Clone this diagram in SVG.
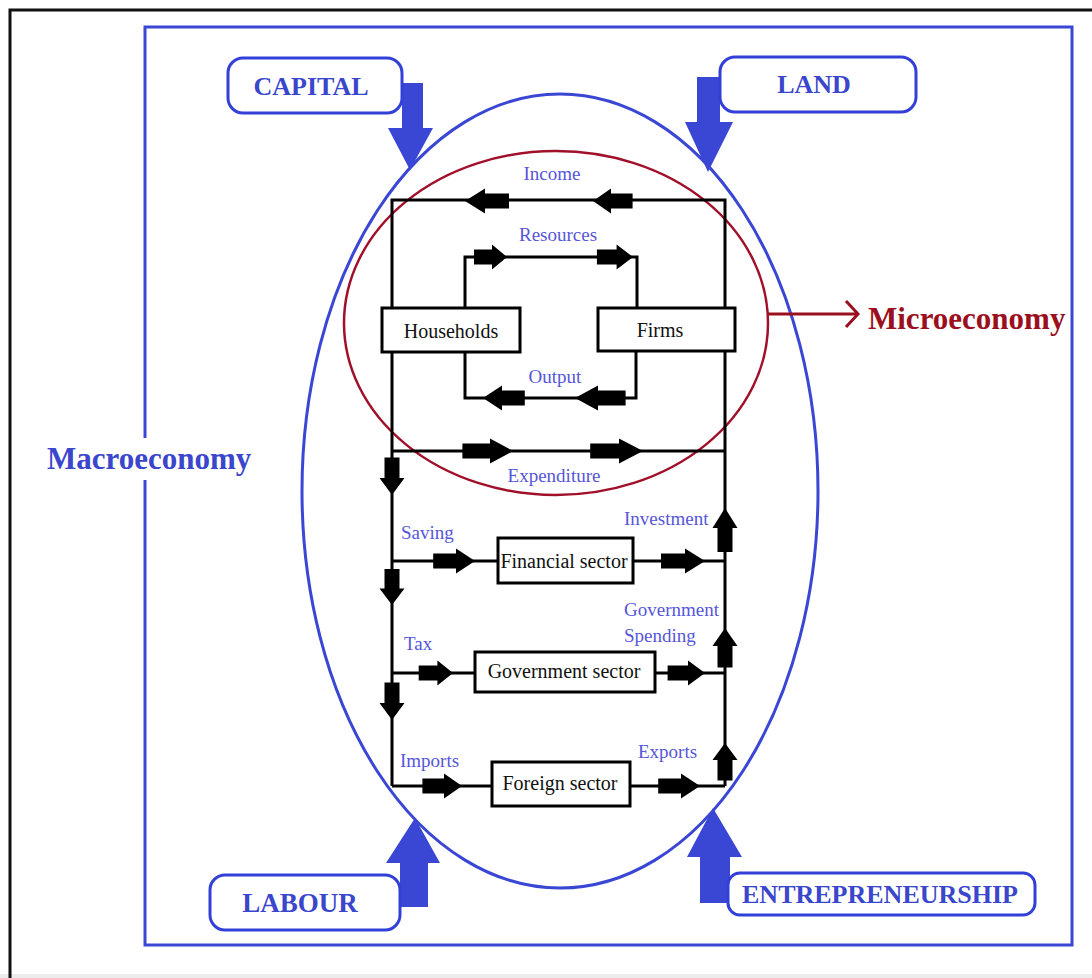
<svg xmlns="http://www.w3.org/2000/svg" xmlns:xlink="http://www.w3.org/1999/xlink" width="1092" height="978" viewBox="0 0 1092 978">
  <style>
    .frame { fill: none; stroke: #111; stroke-width: 3; }
    .macro { fill: none; stroke: #3a46d4; stroke-width: 3; }
    .micro { fill: none; stroke: #a0102a; stroke-width: 2.5; }
    .wire { fill: none; stroke: #000; stroke-width: 3; }
    .box { fill: #fff; stroke: #000; stroke-width: 3; }
    .factor { fill: #fff; stroke: #3340d8; stroke-width: 3; }
    .bigarrow { fill: #3a46d4; }
    .flow { fill: #000; }
    .lbl { font-family: "Liberation Serif", "Times New Roman", serif; font-size: 19px; fill: #5656d8; }
    .boxtxt { font-family: "Liberation Serif", "Times New Roman", serif; font-size: 20px; fill: #111; text-anchor: middle; }
    .factxt { font-family: "Liberation Serif", "Times New Roman", serif; font-weight: bold; font-size: 26px; fill: #3a46cc; text-anchor: middle; }
    .title { font-family: "Liberation Serif", "Times New Roman", serif; font-weight: bold; font-size: 31px; }
  </style>
  <defs>
    <!-- block arrow, tip at origin, pointing right, 44px long -->
    <path id="ba" d="M0,0 L-20,-12.5 L-20,-7.5 L-44,-7.5 L-44,7.5 L-20,7.5 L-20,12.5 Z"/>
  </defs>

  <rect width="1092" height="978" fill="#fff"/>
  <rect x="0" y="974" width="1092" height="4" fill="#ececec"/>
  <path class="frame" d="M10,978 V10 H1092"/>

  <!-- macroeconomy frame -->
  <rect class="macro" x="145" y="27" width="927" height="918"/>

  <!-- factor inflow arrows -->
  <g id="factor-arrows">
    <polygon class="bigarrow" points="402,83 423,83 423,128 433,128 410,170 388,128 402,128"/>
    <polygon class="bigarrow" points="697,77 720,77 720,122 733,122 708,172 685,122 697,122"/>
    <polygon class="bigarrow" points="400,907 428,907 428,863 440,863 415,818 386,863 400,863"/>
    <polygon class="bigarrow" points="700,903 730,903 730,857 742,857 713,808 687,857 700,857"/>
  </g>

  <!-- economy boundaries -->
  <ellipse class="macro" cx="560" cy="491" rx="258" ry="397"/>
  <ellipse class="micro" cx="556" cy="323" rx="212" ry="172"/>

  <!-- circular flow connectors -->
  <g id="connectors">
    <path class="wire" d="M392,786 V200 H725 V786"/>
    <path class="wire" d="M465,308 V257 H637 V308"/>
    <path class="wire" d="M465,352 V398 H636 V351"/>
    <path class="wire" d="M392,451 H725"/>
    <path class="wire" d="M392,561 H498 M633,561 H725"/>
    <path class="wire" d="M392,673 H475 M655,673 H725"/>
    <path class="wire" d="M392,786 H492 M630,786 H725"/>

    <!-- income -->
    <use href="#ba" class="flow" transform="translate(465,201) rotate(180)"/>
    <use href="#ba" class="flow" transform="translate(593,201) rotate(180) scale(0.9,1)"/>
    <!-- resources -->
    <use href="#ba" class="flow" transform="translate(507,257) scale(0.75,1)"/>
    <use href="#ba" class="flow" transform="translate(633,257) scale(0.82,1)"/>
    <!-- output -->
    <use href="#ba" class="flow" transform="translate(483,398) rotate(180) scale(0.95,1)"/>
    <use href="#ba" class="flow" transform="translate(575,398) rotate(180) scale(1.15,1)"/>
    <!-- expenditure -->
    <use href="#ba" class="flow" transform="translate(513,451) scale(1.15,1)"/>
    <use href="#ba" class="flow" transform="translate(643,451) scale(1.2,1)"/>
    <!-- withdrawals down the left side -->
    <use href="#ba" class="flow" transform="translate(392,495) rotate(90) scale(0.85,1)"/>
    <use href="#ba" class="flow" transform="translate(392,605) rotate(90) scale(0.82,1)"/>
    <use href="#ba" class="flow" transform="translate(392,720) rotate(90) scale(0.85,1)"/>
    <!-- sector flows -->
    <use href="#ba" class="flow" transform="translate(475,561) scale(0.95,1)"/>
    <use href="#ba" class="flow" transform="translate(705,561)"/>
    <use href="#ba" class="flow" transform="translate(453,673) scale(0.78,1)"/>
    <use href="#ba" class="flow" transform="translate(705,673) scale(0.85,1)"/>
    <use href="#ba" class="flow" transform="translate(462,786) scale(0.9,1)"/>
    <use href="#ba" class="flow" transform="translate(700,786) scale(0.95,1)"/>
    <!-- injections up the right side -->
    <use href="#ba" class="flow" transform="translate(725,508) rotate(-90)"/>
    <use href="#ba" class="flow" transform="translate(725,628) rotate(-90) scale(0.9,1)"/>
    <use href="#ba" class="flow" transform="translate(725,743) rotate(-90) scale(0.85,1)"/>

    <!-- microeconomy pointer -->
    <path d="M768,314 H858 M846,301 L858,314 L846,327" fill="none" stroke="#9b1020" stroke-width="3"/>
  </g>

  <!-- flow labels -->
  <g id="flow-labels">
    <text class="lbl" x="552" y="180" text-anchor="middle">Income</text>
    <text class="lbl" x="558" y="241" text-anchor="middle">Resources</text>
    <text class="lbl" x="555" y="383" text-anchor="middle">Output</text>
    <text class="lbl" x="554" y="482" text-anchor="middle">Expenditure</text>
    <text class="lbl" x="401" y="539">Saving</text>
    <text class="lbl" x="624" y="525">Investment</text>
    <text class="lbl" x="404" y="650">Tax</text>
    <text class="lbl" x="624" y="616">Government</text>
    <text class="lbl" x="624" y="642">Spending</text>
    <text class="lbl" x="400" y="767">Imports</text>
    <text class="lbl" x="638" y="758">Exports</text>
  </g>

  <g id="households">
    <rect class="box" x="382" y="308" width="138" height="44"/>
    <text class="boxtxt" x="451" y="338">Households</text>
  </g>
  <g id="firms">
    <rect class="box" x="598" y="308" width="137" height="43"/>
    <text class="boxtxt" x="660" y="337">Firms</text>
  </g>
  <g id="financial-sector">
    <rect class="box" x="498" y="538" width="135" height="45"/>
    <text class="boxtxt" x="564" y="568">Financial sector</text>
  </g>
  <g id="government-sector">
    <rect class="box" x="475" y="652" width="180" height="40"/>
    <text class="boxtxt" x="564" y="678">Government sector</text>
  </g>
  <g id="foreign-sector">
    <rect class="box" x="492" y="762" width="138" height="44"/>
    <text class="boxtxt" x="560" y="790">Foreign sector</text>
  </g>

  <g id="capital">
    <rect class="factor" x="228" y="58" width="174" height="55" rx="15"/>
    <text class="factxt" x="311" y="95">CAPITAL</text>
  </g>
  <g id="land">
    <rect class="factor" x="720" y="57" width="196" height="55" rx="15"/>
    <text class="factxt" x="814" y="93">LAND</text>
  </g>
  <g id="labour">
    <rect class="factor" x="210" y="875" width="190" height="55" rx="15"/>
    <text class="factxt" x="300" y="912" style="font-size:27px">LABOUR</text>
  </g>
  <g id="entrepreneurship">
    <rect class="factor" x="728" y="873" width="307" height="42" rx="12"/>
    <text class="factxt" x="880" y="903">ENTREPRENEURSHIP</text>
  </g>

  <g id="titles">
    <!-- white backing so the frame edge does not cross the title -->
    <rect x="42" y="438" width="218" height="42" fill="#fff"/>
    <text class="title" x="47" y="469" fill="#3a46cc">Macroeconomy</text>
    <text class="title" x="868" y="329" fill="#9b1020">Microeconomy</text>
  </g>
</svg>
